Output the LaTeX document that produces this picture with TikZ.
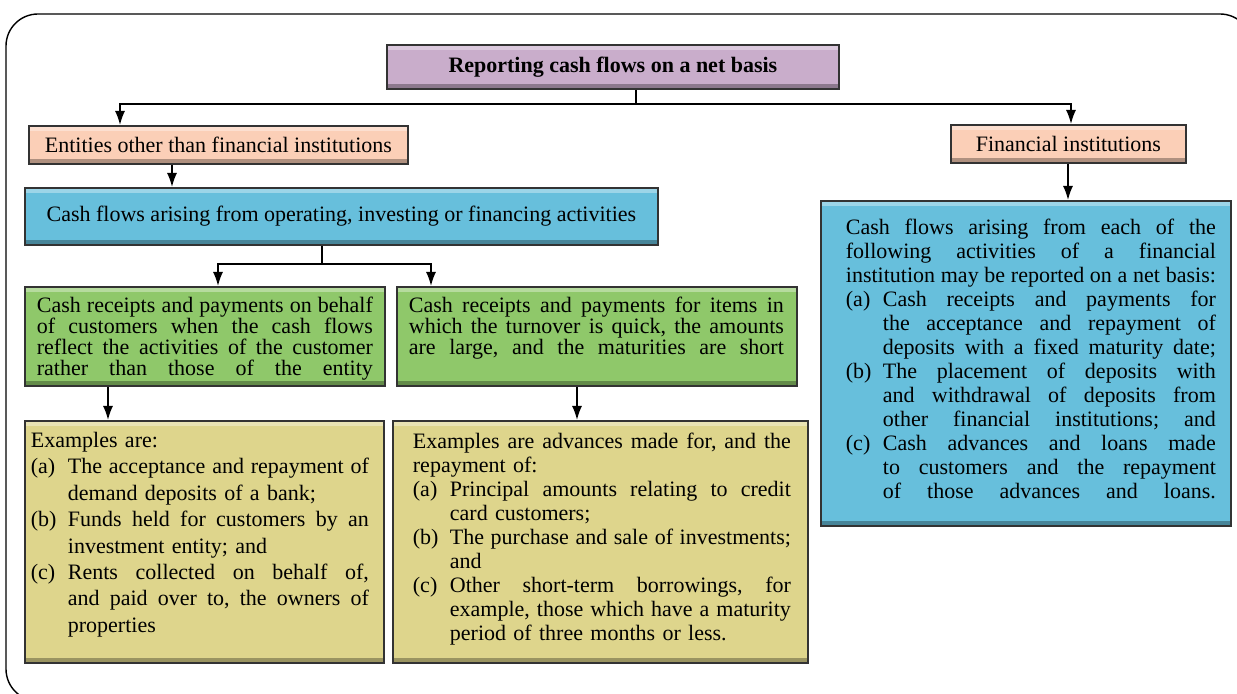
\documentclass[tikz,border=0pt]{standalone}
\usepackage{fontspec}
\setmainfont{Liberation Serif}
\usetikzlibrary{arrows.meta}

\definecolor{titlepurple}{RGB}{201,173,203}
\definecolor{peach}{RGB}{251,207,183}
\definecolor{skyblue}{RGB}{103,191,220}
\definecolor{leafgreen}{RGB}{143,200,106}
\definecolor{sandyellow}{RGB}{222,213,140}

% rows of the text boxes: left gap, row width, hanging indent of (a), (b), (c)
\newlength\rowin
\newlength\rowwd
\newlength\rowhang
\setlength\rowhang{18.5pt}
\newcommand\fillrow[2]{\hbox to #1{\frenchspacing\spaceskip=0.25em plus 1fil minus 0.06em\relax #2}}
\newcommand\jrow[1]{\hspace*{\rowin}\fillrow{\rowwd}{#1}\par}
\newcommand\lrow[1]{\hspace*{\rowin}\makebox[\rowwd][l]{#1}\par}
\newcommand\ijrow[2]{\hspace*{\rowin}\makebox[\rowhang][l]{#1}\fillrow{\dimexpr\rowwd-\rowhang\relax}{#2}\par}
\newcommand\ilrow[2]{\hspace*{\rowin}\makebox[\rowhang][l]{#1}\makebox[\dimexpr\rowwd-\rowhang\relax][l]{#2}\par}

\tikzset{
  panel/.style={draw=black!80, line width=0.9pt, fill=#1, anchor=north west,
    path picture={
      \fill[white, opacity=0.35] (path picture bounding box.north west) rectangle ([yshift=-2.5pt]path picture bounding box.north east);
      \fill[black, opacity=0.3] (path picture bounding box.south west) rectangle ([yshift=2.5pt]path picture bounding box.south east);
    }},
  labelbox/.style={panel=#1, inner sep=0pt, align=center, font=\fontsize{11}{12}\selectfont},
  textbox/.style={panel=#1, inner xsep=0pt, text height=8pt},
  rows/.style n args={3}{execute at begin node={\setlength\rowin{#1}\setlength\rowwd{#2}},
    font=\fontsize{11}{#3}\selectfont},
  conn/.style={line width=0.8pt},
  arr/.style={conn, -{Latex[length=7pt,width=5pt]}},
  frame/.style={line width=0.7pt, rounded corners=16pt}
}

\begin{document}
\begin{tikzpicture}[x=0.5pt, y=-0.5pt]
\clip (0,0) rectangle (1237,694);
\draw[frame] (6,14) rectangle (1252,701);

% top of the tree
\node[labelbox=titlepurple, minimum width=226pt, minimum height=22pt, font=\fontsize{11}{12}\selectfont\bfseries] (title) at (386,44) {Reporting cash flows on a net basis};
\node[labelbox=peach, minimum width=189.5pt, minimum height=19pt] (entities) at (28,125) {Entities other than financial institutions};
\node[labelbox=peach, minimum width=117.5pt, minimum height=19pt] (fininst) at (950,124) {Financial institutions};
\node[labelbox=skyblue, minimum width=316.5pt, minimum height=28.5pt] (cashflows) at (24,187) {Cash flows arising from operating, investing or financing activities};

% left branch
\node[textbox=leafgreen, rows={6pt}{168pt}{10.6pt}, text width=180pt, inner ysep=4.75pt, text depth=32pt] (onbehalf) at (24,286) {%
\jrow{Cash receipts and payments on behalf}
\jrow{of customers when the cash flows}
\jrow{reflect the activities of the customer}
\jrow{rather than those of the entity}};
\node[textbox=leafgreen, rows={6pt}{187.5pt}{10.6pt}, text width=200pt, inner ysep=4.75pt, text depth=32pt] (quick) at (396,286) {%
\jrow{Cash receipts and payments for items in}
\jrow{which the turnover is quick, the amounts}
\jrow{are large, and the maturities are short}};

\node[textbox=sandyellow, rows={3pt}{169pt}{13.2pt}, text width=179.5pt, inner ysep=5.35pt, text depth=102.3pt] (examplesL) at (24,420) {%
\lrow{Examples are:}
\ijrow{(a)}{The acceptance and repayment of}
\ilrow{}{demand deposits of a bank;}
\ijrow{(b)}{Funds held for customers by an}
\ilrow{}{investment entity; and}
\ijrow{(c)}{Rents collected on behalf of,}
\ijrow{}{and paid over to, the owners of}
\ilrow{}{properties}};
\node[textbox=sandyellow, rows={10pt}{189pt}{12pt}, text width=207.5pt, inner ysep=6pt, text depth=101pt] (examplesR) at (392,420) {%
\jrow{Examples are advances made for, and the}
\lrow{repayment of:}
\ijrow{(a)}{Principal amounts relating to credit}
\ilrow{}{card customers;}
\ijrow{(b)}{The purchase and sale of investments;}
\ilrow{}{and}
\ijrow{(c)}{Other short-term borrowings, for}
\ijrow{}{example, those which have a maturity}
\ilrow{}{period of three months or less.}};

% right branch
\node[textbox=skyblue, rows={12.5pt}{185pt}{12pt}, text width=205pt, inner ysep=9pt, text depth=136.5pt] (netbasis) at (820,200) {%
\jrow{Cash flows arising from each of the}
\jrow{following activities of a financial}
\jrow{institution may be reported on a net basis:}
\ijrow{(a)}{Cash receipts and payments for}
\ijrow{}{the acceptance and repayment of}
\ijrow{}{deposits with a fixed maturity date;}
\ijrow{(b)}{The placement of deposits with}
\ijrow{}{and withdrawal of deposits from}
\ijrow{}{other financial institutions; and}
\ijrow{(c)}{Cash advances and loans made}
\ijrow{}{to customers and the repayment}
\ijrow{}{of those advances and loans.}};

% connectors
\coordinate (hubtop) at (636,104);
\draw[conn] (title.south -| hubtop) -- (hubtop);
\draw[arr] (hubtop) -| (entities.north -| 120,0);
\draw[arr] (hubtop) -| (fininst.north -| 1071,0);
\draw[arr] (entities.south -| 172,0) -- (cashflows.north -| 172,0);
\coordinate (hubmid) at (322,264);
\draw[conn] (cashflows.south -| hubmid) -- (hubmid);
\draw[arr] (hubmid) -| (onbehalf.north -| 218,0);
\draw[arr] (hubmid) -| (quick.north -| 431,0);
\draw[arr] (onbehalf.south -| 108,0) -- (examplesL.north -| 108,0);
\draw[arr] (quick.south -| 577,0) -- (examplesR.north -| 577,0);
\draw[arr] (fininst.south -| 1068,0) -- (netbasis.north -| 1068,0);
\end{tikzpicture}
\end{document}
